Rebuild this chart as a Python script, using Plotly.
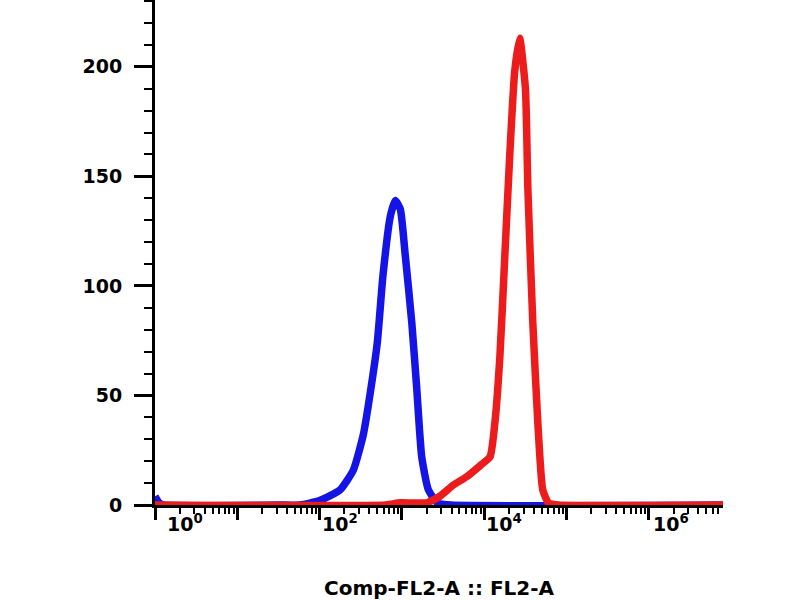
import plotly.graph_objects as go

# histogram, x as log10 of FL2-A, y as count
blue_log = [0.0, 0.05, 0.1, 1.5, 1.76, 2.0, 2.25, 2.41, 2.53, 2.61, 2.70, 2.77, 2.86, 2.92,
            2.98, 3.04, 3.12, 3.18, 3.24, 3.32, 3.43, 3.6, 6.9]
blue_count = [4, 1, 0, 0, 0, 2, 7, 16, 32, 50, 74, 105, 132, 139,
              135, 114, 83, 53, 22, 7, 1, 0, 0]

red_log = [0.0, 2.8, 2.98, 3.30, 3.46, 3.62, 3.79, 3.95, 4.07, 4.13, 4.19, 4.25, 4.31, 4.37,
           4.43, 4.50, 4.53, 4.59, 4.65, 4.71, 4.78, 4.9, 6.9]
red_count = [0, 0, 1, 1, 4, 9, 13, 18, 22, 38, 68, 114, 160, 198,
             213, 190, 144, 83, 38, 7, 1, 0, 0]

x_label_exp = [0, 2, 4, 6]
x_label_shift = [10, 0, 0, 2]
y_ticks = [0, 50, 100, 150, 200]

blue_x = [10 ** v for v in blue_log]
red_x = [10 ** v for v in red_log]

fig = go.Figure()
fig.add_trace(go.Scatter(x=blue_x, y=blue_count, mode="lines",
                         line=dict(color="#1414e6", width=7.5, shape="spline", smoothing=0.5),
                         hoverinfo="skip"))
fig.add_trace(go.Scatter(x=red_x, y=red_count, mode="lines",
                         line=dict(color="#ec1c1c", width=7.5, shape="spline", smoothing=0.5),
                         hoverinfo="skip"))

fig.update_layout(
    width=800, height=600,
    margin=dict(l=155, r=77, t=0, b=95),
    paper_bgcolor="white", plot_bgcolor="white",
    showlegend=False,
    font=dict(family="DejaVu Sans", size=16, color="black"),
    xaxis=dict(
        type="log", range=[0, 6.9], showgrid=False, zeroline=False,
        showline=True, linecolor="black", linewidth=3, layer="below traces",
        dtick=1, ticks="outside", ticklen=12, tickwidth=3, tickcolor="black",
        showticklabels=False,
        minor=dict(dtick="D1", ticks="outside", ticklen=6, tickwidth=2, tickcolor="black"),
    ),
    yaxis=dict(
        range=[0, 230.5], showgrid=False, zeroline=False,
        showline=True, linecolor="black", linewidth=3, layer="below traces",
        tickvals=y_ticks, ticks="outside", ticklen=18, tickwidth=3, tickcolor="black",
        ticklabelstandoff=8,
        tickfont=dict(family="DejaVu Sans", size=19, color="black", weight="bold"),
        minor=dict(dtick=10, ticks="outside", ticklen=8, tickwidth=2, tickcolor="black"),
    ),
)

for e, s in zip(x_label_exp, x_label_shift):
    fig.add_annotation(x=e, xref="x", y=0, yref="paper",
                       text="<b>10<sup>%d</sup></b>" % e, showarrow=False,
                       xanchor="left", yanchor="top", xshift=s, yshift=-4,
                       font=dict(family="DejaVu Sans", size=19, color="black"))

fig.add_annotation(x=0.5, xref="paper", y=0, yref="paper",
                   text="<b>Comp-FL2-A :: FL2-A</b>", showarrow=False,
                   xanchor="center", yanchor="middle", yshift=-83,
                   font=dict(family="DejaVu Sans", size=20, color="black"))

fig.write_html("out.html", config={"displayModeBar": False},
               post_script="document.body.style.margin='0';")
